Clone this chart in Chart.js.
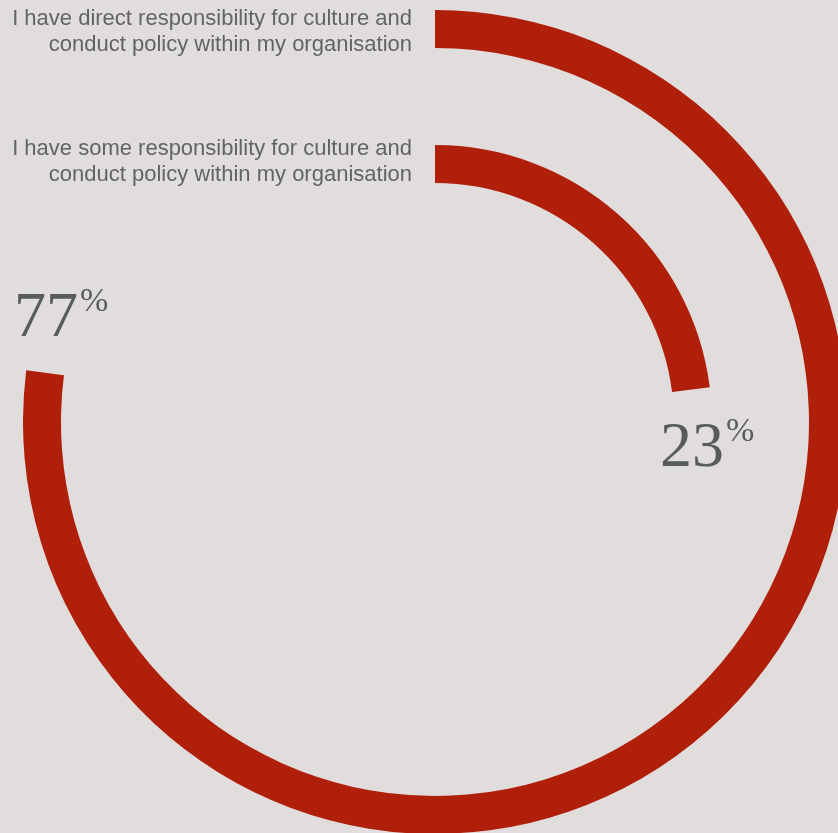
<!DOCTYPE html>
<html>
<head>
<meta charset="utf-8">
<script src="https://cdn.jsdelivr.net/npm/chart.js@4/dist/chart.umd.min.js"></script>
<style>
  html, body { margin: 0; padding: 0; width: 838px; height: 833px; overflow: hidden; background: #e2dddd; }
  #wrap { position: absolute; left: 23px; top: 10px; width: 824px; height: 824px; }
  .label { position: absolute; right: 426px; text-align: right; font-family: "Liberation Sans", Arial, sans-serif;
           font-size: 22px; line-height: 26px; color: #616466; white-space: nowrap; }
  .pct { position: absolute; font-family: "Liberation Serif", "Times New Roman", serif; font-size: 64px;
         color: #575b5d; line-height: 1; }
  .pct sup { font-size: 34px; vertical-align: top; position: relative; top: 0px; margin-left: 2px; }
</style>
</head>
<body>
<div id="wrap"><canvas id="chart"></canvas></div>
<div class="label" id="lab0" style="top: 5px;"></div>
<div class="label" id="lab1" style="top: 135px;"></div>
<div class="pct" id="pct0" style="left: 14px; top: 283px;"></div>
<div class="pct" id="pct1" style="left: 660px; top: 413px;"></div>
<script>
const LABELS = [
  "I have direct responsibility for culture and<br>conduct policy within my organisation",
  "I have some responsibility for culture and<br>conduct policy within my organisation",
];
const VALUES = [77, 23];
const RED = "#b01f0a";

const $ = (id) => document.getElementById(id);

LABELS.forEach((t, i) => {
  $(`lab${i}`).innerHTML = t;
  $(`pct${i}`).innerHTML = `${VALUES[i]}<sup>%</sup>`;
});

// outer ring, a transparent spacer ring, inner ring
const ring = (v) => ({
  data: [v, 100 - v],
  backgroundColor: [RED, "rgba(0,0,0,0)"],
  borderWidth: 0,
  weight: 38,
});

new Chart($("chart"), {
  type: "doughnut",
  data: {
    labels: ["value", "rest"],
    datasets: [
      ring(VALUES[0]),
      { data: [100], backgroundColor: ["rgba(0,0,0,0)"], borderWidth: 0, weight: 97 },
      ring(VALUES[1]),
    ],
  },
  options: {
    responsive: true, maintainAspectRatio: false, animation: false,
    cutout: "58%",
    plugins: { legend: { display: false }, tooltip: { enabled: false } },
  },
});
</script>
</body>
</html>
